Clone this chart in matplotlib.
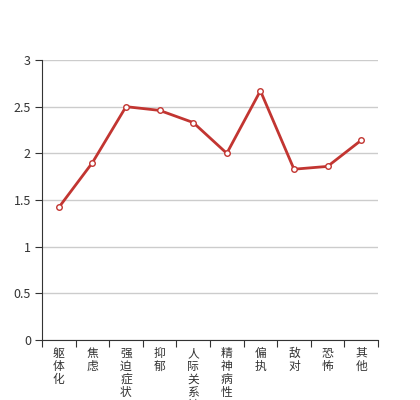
import numpy as np
import matplotlib
matplotlib.use('Agg')
from matplotlib import pyplot as plt

plt.rcParams['font.family'] = ['Noto Sans CJK SC', 'DejaVu Sans']

categories = ['躯体化', '焦虑', '强迫症状', '抑郁', '人际关系敏感', '精神病性', '偏执', '敌对', '恐怖', '其他']
values = [1.42, 1.90, 2.50, 2.46, 2.33, 2.00, 2.67, 1.83, 1.86, 2.14]
yticks = [0, 0.5, 1, 1.5, 2, 2.5, 3]
ytick_labels = ['0', '0.5', '1', '1.5', '2', '2.5', '3']

fig = plt.figure(figsize=(4.2, 4.0), dpi=100)
ax = fig.add_axes([0.1, 0.15, 0.8, 0.7])

x = np.arange(len(categories))
ax.plot(x, values, color='#c23531', lw=2, marker='o', ms=4,
        mfc='white', mec='#c23531', mew=1, zorder=3)

ax.set_xlim(-0.5, len(categories) - 0.5)
ax.set_ylim(0, 3)
ax.set_yticks(yticks)
ax.set_yticklabels(ytick_labels, fontsize=9, color='#333333')
ax.yaxis.grid(True, color='#cccccc', lw=1)
ax.set_axisbelow(True)

# category ticks sit at the boundaries, labels at centres
ax.set_xticks(np.arange(len(categories) + 1) - 0.5)
ax.set_xticklabels([])
ax.set_xticks(x, minor=True)
ax.set_xticklabels(['\n'.join(c) for c in categories], minor=True,
                   fontsize=8.5, color='#333333', linespacing=1.0, va='top')
ax.tick_params(axis='x', which='minor', length=0, pad=5)
ax.tick_params(axis='x', which='major', length=5, color='#333333')
ax.tick_params(axis='y', length=5, color='#333333', pad=3)

for s in ['top', 'right']:
    ax.spines[s].set_visible(False)
for s in ['left', 'bottom']:
    ax.spines[s].set_color('#333333')

fig.savefig('out.png', dpi=100)
